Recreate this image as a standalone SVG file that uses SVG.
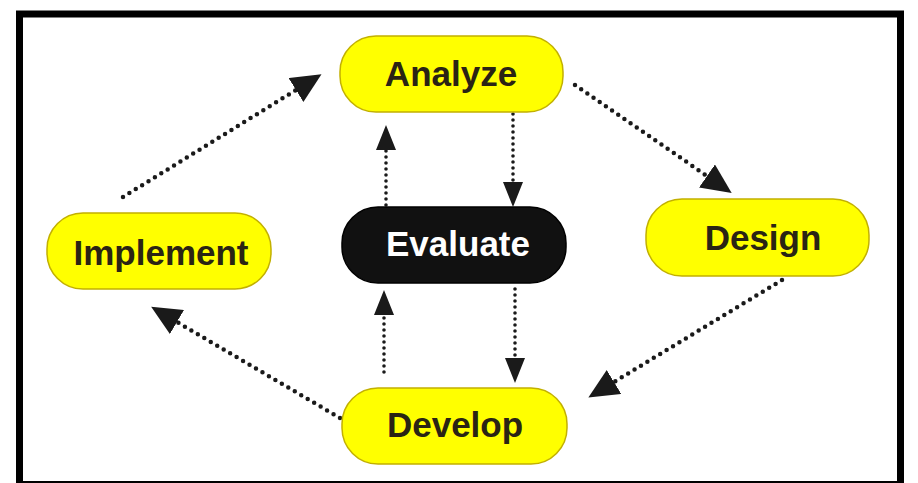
<svg xmlns="http://www.w3.org/2000/svg" width="918" height="483" viewBox="0 0 918 483">
  <style>
    .pill { fill: #ffff00; stroke: #c2b000; stroke-width: 1.5; }
    .dark { fill: #111111; stroke: #000000; stroke-width: 1.5; }
    .lbl { font-family: "Liberation Sans", Arial, sans-serif; font-weight: bold; font-size: 35px; text-anchor: middle; fill: #2a2414; }
    .lbl-w { fill: #ffffff; }
    .dd { fill: none; stroke: #1a1a1a; stroke-width: 4.5; stroke-linecap: round; stroke-dasharray: 0 7.5; }
    .dv { fill: none; stroke: #1a1a1a; stroke-width: 3.6; stroke-linecap: round; stroke-dasharray: 0 6; }
  </style>
  <defs>
    <marker id="headD" markerUnits="userSpaceOnUse" viewBox="0 0 30 28" markerWidth="30" markerHeight="28" refX="0" refY="14" orient="auto">
      <path d="M0,0 L30,14 L0,28 Z" fill="#1a1a1a"/>
    </marker>
    <marker id="headV" markerUnits="userSpaceOnUse" viewBox="0 0 25 20" markerWidth="25" markerHeight="20" refX="0" refY="10" orient="auto">
      <path d="M0,0 L25,10 L0,20 Z" fill="#1a1a1a"/>
    </marker>
  </defs>
  <rect x="0" y="0" width="918" height="483" fill="#ffffff"/>
  <g id="frame">
    <path d="M19.5,483 L19.5,14 L900.5,14 L900.5,483" fill="none" stroke="#000000" stroke-width="7"/>
    <line x1="16" y1="482" x2="904" y2="482" stroke="#000000" stroke-width="2"/>
  </g>
  <g id="connectors">
    <line class="dd" x1="123" y1="197" x2="296" y2="90" marker-end="url(#headD)"/>
    <line class="dd" x1="575" y1="85" x2="707" y2="176" marker-end="url(#headD)"/>
    <line class="dd" x1="782" y1="280" x2="614" y2="382" marker-end="url(#headD)"/>
    <line class="dd" x1="340" y1="418" x2="177" y2="322" marker-end="url(#headD)"/>
    <line class="dv" x1="386" y1="205" x2="386" y2="150" marker-end="url(#headV)"/>
    <line class="dv" x1="513" y1="114" x2="513" y2="182" marker-end="url(#headV)"/>
    <line class="dv" x1="384" y1="372" x2="384" y2="315" marker-end="url(#headV)"/>
    <line class="dv" x1="515" y1="289" x2="515" y2="358" marker-end="url(#headV)"/>
  </g>
  <g id="analyze">
    <rect class="pill" x="340" y="36" width="223" height="76" rx="36" ry="36"/>
    <text class="lbl" x="451" y="86">Analyze</text>
  </g>
  <g id="evaluate">
    <rect class="dark" x="342" y="207" width="224" height="76" rx="36" ry="36"/>
    <text class="lbl lbl-w" x="458" y="256">Evaluate</text>
  </g>
  <g id="design">
    <rect class="pill" x="646" y="199" width="223" height="77" rx="36" ry="36"/>
    <text class="lbl" x="763" y="250">Design</text>
  </g>
  <g id="implement">
    <rect class="pill" x="47" y="213" width="224" height="76" rx="36" ry="36"/>
    <text class="lbl" x="161" y="265">Implement</text>
  </g>
  <g id="develop">
    <rect class="pill" x="342" y="388" width="225" height="76" rx="36" ry="36"/>
    <text class="lbl" x="455" y="437">Develop</text>
  </g>
</svg>
